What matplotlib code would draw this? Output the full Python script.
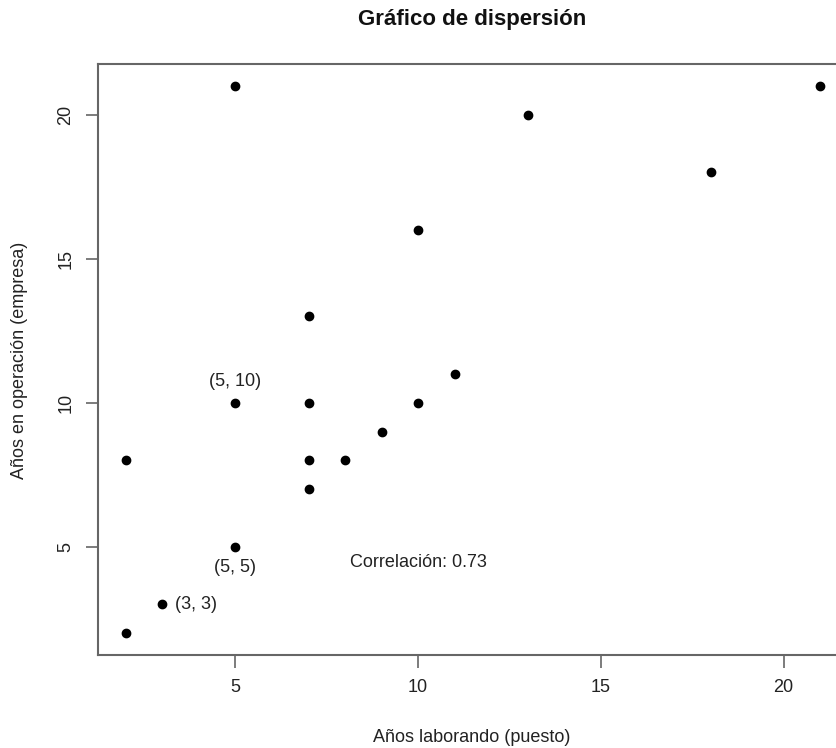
import matplotlib.pyplot as plt

plt.rcParams['font.family'] = ['Liberation Sans', 'DejaVu Sans']

# años laborando en el puesto vs años de operación de la empresa
puesto = [5, 13, 21, 18, 10, 7, 11, 5, 7, 10, 9, 2, 7, 8, 7, 5, 3, 2]
empresa = [21, 20, 21, 18, 16, 13, 11, 10, 10, 10, 9, 8, 8, 8, 7, 5, 3, 2]
correlacion = 0.73

xticks = [5, 10, 15, 20]
yticks = [5, 10, 15, 20]

fig = plt.figure(figsize=(8.36, 7.48), dpi=100)
# el recuadro sale un poco por la derecha de la figura
ax = fig.add_axes([98 / 836, 93 / 748, 750 / 836, 591 / 748])

ax.scatter(puesto, empresa, s=36, color='black', zorder=3)

pad = 0.04 * (max(puesto) - min(puesto))
ax.set_xlim(min(puesto) - pad, max(puesto) + pad)
pad = 0.04 * (max(empresa) - min(empresa))
ax.set_ylim(min(empresa) - pad, max(empresa) + pad)

ax.set_xticks(xticks)
ax.set_yticks(yticks)
ax.tick_params(length=9, width=1.2, color='#666666', labelsize=13,
               labelcolor='#222222', pad=8)
for lab in ax.get_yticklabels():
    lab.set_rotation(90)
    lab.set_va('center')
for s in ax.spines.values():
    s.set_color('#666666')
    s.set_linewidth(1.5)

ax.annotate('(5, 10)', (5, 10), xytext=(0, 9), textcoords='offset points',
            ha='center', va='bottom', fontsize=13, color='#222222')
ax.annotate('(5, 5)', (5, 5), xytext=(0, -9), textcoords='offset points',
            ha='center', va='top', fontsize=13, color='#222222')
ax.annotate('(3, 3)', (3, 3), xytext=(9, 0), textcoords='offset points',
            ha='left', va='center', fontsize=13, color='#222222')
ax.text(10, 4.45, f'Correlación: {correlacion}', ha='center', va='center',
        fontsize=13, color='#222222')

fig.text(472 / 836, 1 - 20 / 748, 'Gráfico de dispersión', ha='center',
         va='center', fontsize=16, fontweight='bold', color='#111111')
fig.text(472 / 836, 1 - 737 / 748, 'Años laborando (puesto)', ha='center',
         va='center', fontsize=13, color='#222222')
fig.text(20 / 836, 1 - 360 / 748, 'Años en operación (empresa)', ha='center',
         va='center', rotation=90, fontsize=13, color='#222222')

fig.savefig('out.png', dpi=100)
